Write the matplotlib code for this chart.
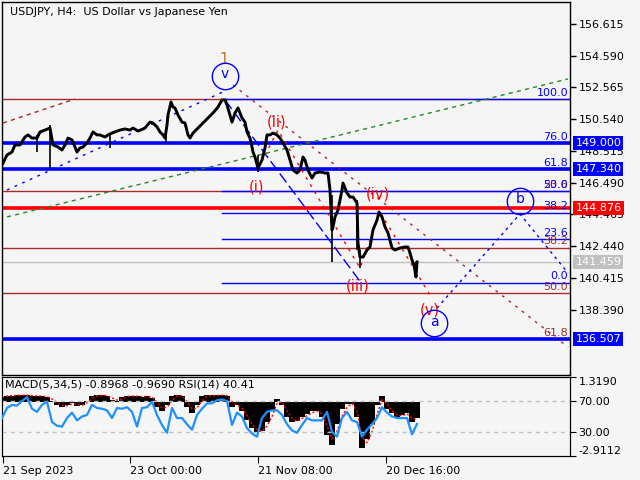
import numpy as np
import matplotlib.pyplot as plt
from matplotlib import transforms

# ---------------- data ----------------
# x = bar position on screen (H4 bars, 1 px each), close prices
bar_x = [2, 7, 12, 15, 20, 25, 28, 32, 37, 40, 45, 50, 53, 58, 62, 65, 68, 72, 75, 77,
         80, 83, 87, 90, 93, 97, 100, 105, 108, 112, 115, 120, 125, 130, 133, 138, 143, 145,
         150, 153, 157, 160, 163, 165, 167, 168, 171, 173, 175, 178, 182, 185, 188, 190, 193,
         198, 203, 208, 213, 218, 222, 225, 227, 230, 232, 235, 238, 242, 245, 247, 250, 252,
         253, 255, 258, 262, 265, 267, 270, 273, 277, 280, 283, 287, 290, 293, 297, 300, 303,
         305, 308, 312, 315, 320, 325, 328, 330, 332, 333, 335, 338, 342, 343, 347, 350, 353,
         357, 358, 360, 363, 367, 370, 373, 377, 379, 382, 385, 388, 392, 395, 400, 405, 408,
         410, 412, 414, 416, 417]
close = [147.62, 148.26, 148.45, 148.90, 148.90, 149.41, 149.54, 149.34, 149.34, 149.73,
         149.85, 149.98, 148.90, 148.77, 148.58, 148.90, 149.34, 149.22, 148.77, 148.45,
         148.71, 148.77, 149.03, 149.34, 149.73, 149.54, 149.54, 149.41, 149.54, 149.66,
         149.73, 149.85, 149.92, 149.85, 149.98, 149.79, 149.92, 149.98, 150.36, 150.30,
         150.05, 149.73, 149.54, 149.34, 150.17, 150.81, 151.64, 151.32, 151.26, 150.81,
         150.36, 150.30, 149.54, 149.34, 149.66, 149.98, 150.30, 150.62, 150.94, 151.32,
         151.77, 151.77, 151.45, 150.81, 150.36, 150.94, 151.26, 150.62, 150.36, 149.73,
         149.34, 148.77, 148.45, 148.13, 147.43, 147.94, 148.71, 149.54, 149.54, 149.66,
         149.54, 149.34, 149.03, 148.58, 147.94, 147.30, 147.11, 147.30, 148.13, 147.94,
         147.30, 146.79, 147.11, 147.18, 147.11, 147.11, 146.03, 143.48, 143.67, 144.31,
         144.75, 146.03, 146.47, 145.84, 145.58, 145.58, 145.20, 142.65, 141.75, 141.75,
         142.20, 142.39, 143.48, 144.11, 144.62, 144.31, 143.67, 143.29, 142.33, 142.20,
         142.33, 142.39, 142.39, 142.01, 141.56, 141.24, 140.48, 141.44]
# long shadows that stick out of the line
wick_x = [37, 50, 110, 166, 258, 332, 357, 360, 416]
wick_hi = [149.54, 150.17, 149.66, 149.98, 148.26, 145.71, 145.39, 142.20, 141.44]
wick_lo = [148.45, 147.43, 148.71, 149.03, 147.18, 141.44, 142.20, 141.05, 140.42]

bid = 141.459
level_prices = [149.000, 147.340, 144.876, 136.507]
level_colors = ['#0000ff', '#0000ff', '#ff0000', '#0000ff']

fib_blue_names = ['100.0', '76.0', '61.8', '50.0', '38.2', '23.6', '0.0']
fib_blue_prices = [151.806, 149.000, 147.340, 145.961, 144.582, 142.875, 140.116]
fib_brown_names = ['0.0', '23.6', '38.2', '50.0', '61.8']
fib_brown_prices = [151.806, 145.964, 142.349, 139.428, 136.507]

y_ticks = [156.615, 154.590, 152.565, 150.540, 148.515, 146.490, 144.465, 142.440,
           140.415, 138.390]

# trend lines (x, price)
brown_short = ([3, 75], [150.30, 151.83])
brown_long = ([233, 568], [152.72, 136.01])
blue_up = ([7, 225], [146.03, 152.34])
blue_down = ([225, 362], [151.77, 140.03])
blue_ab = ([437, 520, 568], [138.50, 144.50, 140.73])
green_up = ([7, 568], [144.31, 153.11])
wave_path = ([257, 278, 360, 380, 430], [147.30, 149.85, 141.05, 144.62, 139.33])

wave_names = ['(i)', '(ii)', '(iii)', '(iv)', '(v)']
wave_x = [257, 277, 358, 378, 430]
wave_y = [146.22, 150.37, 139.90, 145.77, 138.37]
circle_names = ['v', 'a', 'b']
circle_x = [225, 434, 520]
circle_y = [153.30, 137.54, 145.35]

# indicator window, one value every 5 bars
ind_x = np.arange(2, 418, 5)
macd_hist = [0.25, 0.32, 0.32, 0.33, 0.35, 0.35, 0.30, 0.30, 0.28, 0.25,
             0.05, -0.20, -0.29, -0.20, -0.05, -0.24, -0.20, 0.05, 0.30, 0.35,
             0.35, 0.30, 0.10, 0.05, 0.25, 0.30, 0.30, 0.28, 0.25, 0.30,
             0.20, -0.30, -0.50, -0.20, 0.30, 0.37, 0.30, -0.30, -0.60, -0.20,
             0.30, 0.33, 0.33, 0.33, 0.35, 0.30, -0.30, -0.20, -0.50, -1.00,
             -1.40, -1.60, -1.55, -1.10, -0.50, 0.15, -0.20, -0.80, -1.10, -1.05,
             -0.80, -0.65, -0.50, -0.50, -0.80, -1.80, -2.30, -1.20, -0.40, -0.10,
             -0.10, -0.80, -2.50, -2.00, -1.20, -0.20, 0.30, -0.40, -0.60, -0.80,
             -0.70, -0.60, -1.10, -0.90]
macd_signal = [0.20, 0.30, 0.32, 0.33, 0.34, 0.35, 0.32, 0.30, 0.29, 0.26,
               0.15, -0.05, -0.20, -0.22, -0.12, -0.15, -0.20, -0.05, 0.15, 0.30,
               0.34, 0.32, 0.20, 0.08, 0.15, 0.27, 0.30, 0.29, 0.26, 0.28,
               0.25, -0.05, -0.35, -0.30, 0.05, 0.30, 0.33, 0.00, -0.40, -0.35,
               0.05, 0.28, 0.32, 0.33, 0.34, 0.32, 0.00, -0.20, -0.35, -0.75,
               -1.20, -1.50, -1.60, -1.30, -0.80, -0.10, 0.00, -0.50, -0.90, -1.05,
               -0.90, -0.75, -0.60, -0.50, -0.65, -1.30, -2.00, -1.60, -0.80, -0.30,
               -0.10, -0.50, -1.90, -2.20, -1.60, -0.70, 0.10, -0.10, -0.50, -0.70,
               -0.75, -0.65, -0.90, -0.97]
rsi = [48, 61, 65, 64, 70, 75, 60, 56, 65, 69,
       43, 38, 37, 48, 55, 45, 50, 52, 65, 61,
       60, 58, 48, 61, 60, 62, 56, 37, 61, 62,
       69, 52, 39, 29, 61, 48, 48, 40, 33, 52,
       60, 67, 67, 71, 72, 70, 39, 55, 50, 35,
       28, 24, 48, 56, 58, 58, 52, 40, 32, 29,
       39, 48, 45, 45, 45, 56, 30, 24, 48, 56,
       45, 43, 24, 33, 40, 48, 62, 55, 50, 48,
       48, 48, 27, 40.41]

date_x = [3, 130, 258, 386]
date_labels = ['21 Sep 2023', '23 Oct 00:00', '21 Nov 08:00', '20 Dec 16:00']

# ---------------- figure ----------------
bg = '#f5f5f5'
BLUE = '#0000ff'
BROWN = '#a52a2a'
fig = plt.figure(figsize=(6.4, 4.8), dpi=100, facecolor=bg)
ax = fig.add_axes([2 / 640, 1 - 375 / 480, 568 / 640, 373 / 480], facecolor=bg)
axm = fig.add_axes([2 / 640, 1 - 456 / 480, 568 / 640, 79 / 480], facecolor=bg)

ax.set_xlim(2, 570)
ax.set_ylim(134.228, 158.018)
axm.set_xlim(2, 570)

# fibo levels (brown grid drawn full width, blue one starts at the top bar)
for p in fib_brown_prices:
    ax.axhline(p, color=BROWN, lw=1, zorder=1)
tr = transforms.blended_transform_factory(ax.transAxes, ax.transData)
for p in fib_blue_prices:
    ax.plot([222, 570], [p, p], color=BLUE, lw=1, zorder=1.2)
for name, p in zip(fib_brown_names[1:], fib_brown_prices[1:]):  # 0.0 sits under 100.0
    ax.text(0.9965, p + 0.08, name, color=BROWN, fontsize=8, ha='right', va='bottom',
            transform=tr)
for name, p in zip(fib_blue_names, fib_blue_prices):
    ax.text(0.9965, p + 0.08, name, color=BLUE, fontsize=8, ha='right', va='bottom',
            transform=tr)

ax.axhline(bid, color='#c0c0c0', lw=1, zorder=1)
for p, c in zip(level_prices, level_colors):
    ax.axhline(p, color=c, lw=2.6, zorder=1.5)

# trend lines
ax.plot(*brown_short, color=BROWN, lw=1, ls=(0, (3, 3)))
ax.plot(*brown_long, color=BROWN, lw=1, ls=(0, (2, 4)))
ax.plot(*blue_up, color=BLUE, lw=1, ls=(0, (2, 4)))
ax.plot(*blue_down, color=BLUE, lw=1, ls=(0, (8, 3)))
ax.plot(*blue_ab, color=BLUE, lw=1, ls=(0, (2, 3)))
ax.plot(*green_up, color='#228b22', lw=1, ls=(0, (3, 3)))
ax.plot(*wave_path, color='#ff0000', lw=1, ls=(0, (2, 4)))

# price
ax.vlines(wick_x, wick_lo, wick_hi, color='black', lw=1.2, zorder=3)
ax.plot(bar_x, close, color='black', lw=2.1, zorder=3)

# wave marks
for name, x, y in zip(wave_names, wave_x, wave_y):
    ax.text(x, y, name, color='#ff0000', fontsize=10.5, ha='center', va='center', zorder=4)
ax.text(224, 154.32, '1', color='#b8741a', fontsize=10.5, ha='center', va='center')
ax.plot(circle_x, circle_y, 'o', ms=19, mfc='none', mec=BLUE, mew=1, zorder=4)
for name, x, y in zip(circle_names, circle_x, circle_y):
    ax.text(x, y + 0.1, name, color=BLUE, fontsize=10, ha='center', va='center', zorder=4)

# axes decoration
ax.set_xticks([])
ax.yaxis.tick_right()
ax.set_yticks(y_ticks)
ax.set_yticklabels(['%.3f' % v for v in y_ticks])
ax.tick_params(axis='y', direction='out', length=4, width=1, labelsize=8, pad=2)
for s in ax.spines.values():
    s.set_linewidth(1)

box_colors = level_colors[:3] + ['#c0c0c0', level_colors[3]]
box_prices = level_prices[:3] + [bid, level_prices[3]]
for p, c in zip(box_prices, box_colors):
    ax.text(1.0095, p, '%.3f' % p, color='white', fontsize=8, ha='left', va='center',
            transform=tr, zorder=10, clip_on=False,
            bbox=dict(boxstyle='square,pad=0.18', facecolor=c, edgecolor='none'))

fig.text(10 / 640, 1 - 12 / 480, 'USDJPY, H4:  US Dollar vs Japanese Yen', fontsize=8,
         va='center', ha='left')

# ---------------- indicator window ----------------
axm.set_ylim(-2.9112, 1.3190)
axm.bar(ind_x, macd_hist, width=5.2, color='black', lw=0, zorder=2)
axm.plot(ind_x, macd_signal, color='#ff0000', lw=1, ls=(0, (1.5, 1.5)), zorder=3)

axr = axm.twinx()
axr.set_ylim(-0.97, 100.97)
axr.axhline(70, color='#c0c0c0', lw=1, ls=(0, (3, 3)), zorder=1)
axr.axhline(30, color='#c0c0c0', lw=1, ls=(0, (3, 3)), zorder=1)
axr.plot(ind_x, rsi, color='#1e90ff', lw=1.6, zorder=4)
axr.set_yticks([70, 30])
axr.set_yticklabels(['70.00', '30.00'])
axr.tick_params(axis='y', direction='out', length=4, labelsize=8, pad=2)

# twinx moved the macd ticks to the left, put them back
axm.yaxis.tick_right()
axm.yaxis.set_label_position('right')
axm.set_yticks([1.3190, -2.9112])
axm.set_yticklabels(['1.3190', '-2.9112'])
axm.tick_params(axis='y', direction='out', length=4, labelsize=8, pad=2)
lbls = axm.get_yticklabels()
lbls[0].set_va('top')
lbls[1].set_va('bottom')

axm.set_xticks(date_x)
axm.set_xticklabels(date_labels, ha='left')
axm.tick_params(axis='x', direction='out', length=5, labelsize=8, pad=2)
axr.text(0.005, 0.9, 'MACD(5,34,5) -0.8968 -0.9690 RSI(14) 40.41', fontsize=8,
         transform=axr.transAxes, va='center', ha='left', zorder=6)

fig.savefig('out.png', dpi=100, facecolor=bg)
